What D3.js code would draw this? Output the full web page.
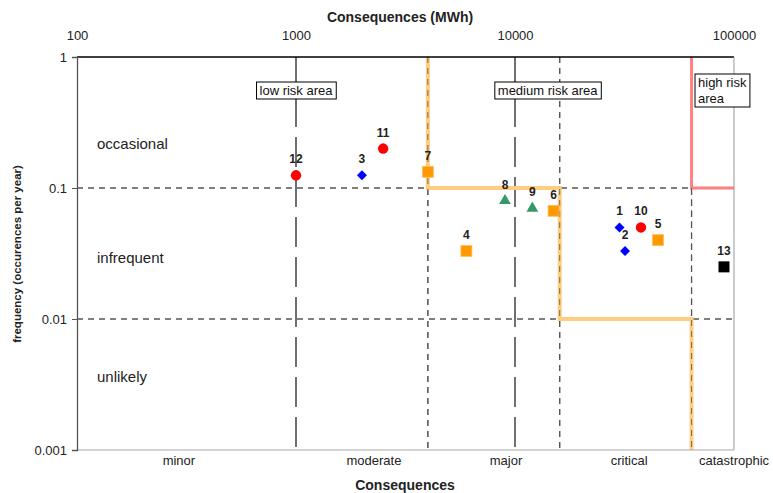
<!DOCTYPE html>
<html><head><meta charset="utf-8">
<script src="https://cdn.jsdelivr.net/npm/d3@7"></script>
<style>body{margin:0;background:#fff}svg{font-family:Arial,"Liberation Sans",sans-serif}</style>
</head><body><svg id="c" width="773" height="493"></svg>
<script>
const xTicks = [100, 1000, 10000, 100000];
const yTicks = [0.001, 0.01, 0.1, 1];
const ids = ["1","2","3","4","5","6","7","8","9","10","11","12","13"];
const consequences = [30000, 31800, 2000, 6000, 45000, 15000, 4000, 9000, 12000, 37600, 2500, 1000, 90000];
const frequencies = [0.05, 0.033, 0.125, 0.033, 0.04, 0.067, 0.133, 0.08, 0.07, 0.05, 0.2, 0.125, 0.025];
const markerTypes = ["diamond","diamond","diamond","square","square","square","square","triangle","triangle","circle","circle","circle","black"];
const freqCategories = ["occasional","infrequent","unlikely"];
const freqCategoryPos = [0.217, 0.0292, 0.0036];
const consCategories = ["minor","moderate","major","critical","catastrophic"];
const consCategoryPos = [292, 2270, 9100, 33200, 100000];
const dashedX = [4000, 16000, 64000];
const longDashX = [1000, 10000];
const dashedY = [0.1, 0.01];
const mediumBoundary = [[4000,1],[4000,0.1],[16000,0.1],[16000,0.01],[64000,0.01],[64000,0.001]];
const highBoundary = [[64000,1],[64000,0.1],[100000,0.1]];

const svg = d3.select("#c");
const x = d3.scaleLog().domain([100,100000]).range([77,734]);
const y = d3.scaleLog().domain([0.001,1]).range([450,57]);

// grid dashed lines
svg.selectAll(".hd").data(dashedY).join("line")
  .attr("x1",x(100)).attr("x2",x(100000)).attr("y1",d=>y(d)).attr("y2",d=>y(d))
  .attr("stroke","#555").attr("stroke-width",1.3).attr("stroke-dasharray","6,5");
svg.selectAll(".vd").data(dashedX).join("line")
  .attr("x1",d=>x(d)).attr("x2",d=>x(d)).attr("y1",y(1)).attr("y2",y(0.001))
  .attr("stroke","#555").attr("stroke-width",1.3).attr("stroke-dasharray","6,5");
svg.selectAll(".vl").data(longDashX).join("line")
  .attr("x1",d=>x(d)).attr("x2",d=>x(d)).attr("y1",y(1)).attr("y2",y(0.001))
  .attr("stroke","#111").attr("stroke-width",1.2).attr("stroke-dasharray","30,10");

// boundaries
const line = d3.line().x(d=>x(d[0])).y(d=>y(d[1]));
svg.append("path").attr("d",line(mediumBoundary)).attr("fill","none")
  .attr("stroke","#ffcc80").attr("stroke-width",4);
svg.append("path").attr("d",line(highBoundary)).attr("fill","none")
  .attr("stroke","#ff8080").attr("stroke-width",3);
svg.selectAll(".vd2").data(dashedX.slice(0,2)).join("line")
  .attr("x1",d=>x(d)).attr("x2",d=>x(d)).attr("y1",y(1)).attr("y2",y(0.001))
  .attr("stroke","#555").attr("stroke-width",1).attr("stroke-dasharray","6,5").attr("opacity",0.8);
svg.append("line").attr("x1",x(64000)).attr("x2",x(64000)).attr("y1",y(0.1)).attr("y2",y(0.001))
  .attr("stroke","#555").attr("stroke-width",1).attr("stroke-dasharray","6,5").attr("opacity",0.8);

// frame
svg.append("line").attr("x1",x(100)).attr("x2",x(100000)).attr("y1",y(1)).attr("y2",y(1)).attr("stroke","#000").attr("stroke-width",1.3);
svg.append("line").attr("x1",x(100)).attr("x2",x(100000)).attr("y1",y(0.001)).attr("y2",y(0.001)).attr("stroke","#aaa").attr("stroke-width",1.2);
svg.append("line").attr("x1",x(100000)).attr("x2",x(100000)).attr("y1",y(1)).attr("y2",y(0.001)).attr("stroke","#999").attr("stroke-width",1);

// left axis
const yAxis = d3.axisLeft(y).tickValues(yTicks).tickFormat(d=>String(d)).tickSize(5).tickPadding(5);
const ga = svg.append("g").attr("transform",`translate(${x(100)},0)`).call(yAxis);
ga.select(".domain").attr("stroke","#555").attr("stroke-width",1.3);
ga.selectAll(".tick line").attr("stroke","#555");
ga.selectAll("text").attr("font-size",13).attr("fill","#222").attr("font-family","Arial, Liberation Sans, sans-serif");

// top axis
const xAxis = d3.axisTop(x).tickValues(xTicks).tickFormat(d=>String(d)).tickSize(0).tickPadding(17);
const gt = svg.append("g").attr("transform",`translate(0,${y(1)})`).call(xAxis);
gt.select(".domain").remove();
gt.selectAll("text").attr("font-size",13).attr("fill","#222").attr("font-family","Arial, Liberation Sans, sans-serif");

// titles
svg.append("text").attr("x",400).attr("y",22).attr("text-anchor","middle").attr("font-size",14).attr("font-weight","bold").attr("fill","#222").text("Consequences (MWh)");
svg.append("text").attr("x",405).attr("y",490).attr("text-anchor","middle").attr("font-size",14).attr("font-weight","bold").attr("fill","#222").text("Consequences");
svg.append("text").attr("transform","translate(21,254) rotate(-90)").attr("text-anchor","middle").attr("font-size",11.5).attr("font-weight","bold").attr("fill","#222").text("frequency (occurences per year)");

// category labels
svg.selectAll(".fc").data(freqCategories).join("text")
  .attr("x",97).attr("y",(d,i)=>y(freqCategoryPos[i])+5).attr("font-size",15).attr("fill","#222").text(d=>d);
svg.selectAll(".cc").data(consCategories).join("text")
  .attr("x",(d,i)=>x(consCategoryPos[i])).attr("y",465).attr("text-anchor","middle").attr("font-size",13).attr("fill","#222").text(d=>d);

// label boxes
function box(cx, cy, lines, anchor){
  const g = svg.append("g");
  const t = g.append("text").attr("font-size",13).attr("fill","#111");
  lines.forEach((l,i)=>t.append("tspan").attr("x",cx).attr("dy",i?16:0).text(l));
  t.attr("y",cy).attr("text-anchor",anchor);
  const b = t.node().getBBox();
  g.insert("rect","text").attr("x",b.x-3).attr("y",b.y-1).attr("width",b.width+6).attr("height",b.height+2)
    .attr("fill","#fff").attr("stroke","#000").attr("stroke-width",1);
}
box(x(1000), 95, ["low risk area"], "middle");
box(x(14100), 95, ["medium risk area"], "middle");
box(x(68500), 87, ["high risk","area"], "start");

// points
const pts = ids.map((id,i)=>({id, cx:x(consequences[i]), cy:y(frequencies[i]), t:markerTypes[i]}));
const g = svg.append("g");
pts.forEach(p=>{
  if(p.t==="diamond"){
    g.append("path").attr("d","M0,-5L5,0L0,5L-5,0Z").attr("transform",`translate(${p.cx},${p.cy})`).attr("fill","#0000ff");
  } else if(p.t==="square"){
    g.append("rect").attr("x",p.cx-5.5).attr("y",p.cy-5.5).attr("width",11).attr("height",11).attr("fill","#ff9900").attr("stroke","#ffc060").attr("stroke-width",0.8);
  } else if(p.t==="triangle"){
    g.append("path").attr("d",d3.symbol(d3.symbolTriangle,60)()).attr("transform",`translate(${p.cx},${p.cy})`).attr("fill","#339966");
  } else if(p.t==="circle"){
    g.append("circle").attr("cx",p.cx).attr("cy",p.cy).attr("r",5.2).attr("fill","#ff0000");
  } else {
    g.append("rect").attr("x",p.cx-5.5).attr("y",p.cy-5.5).attr("width",11).attr("height",11).attr("fill","#000");
  }
  g.append("text").attr("x",p.cx).attr("y",p.cy-12).attr("text-anchor","middle").attr("font-size",12).attr("font-weight","bold").attr("fill","#222").text(p.id);
});
</script></body></html>
